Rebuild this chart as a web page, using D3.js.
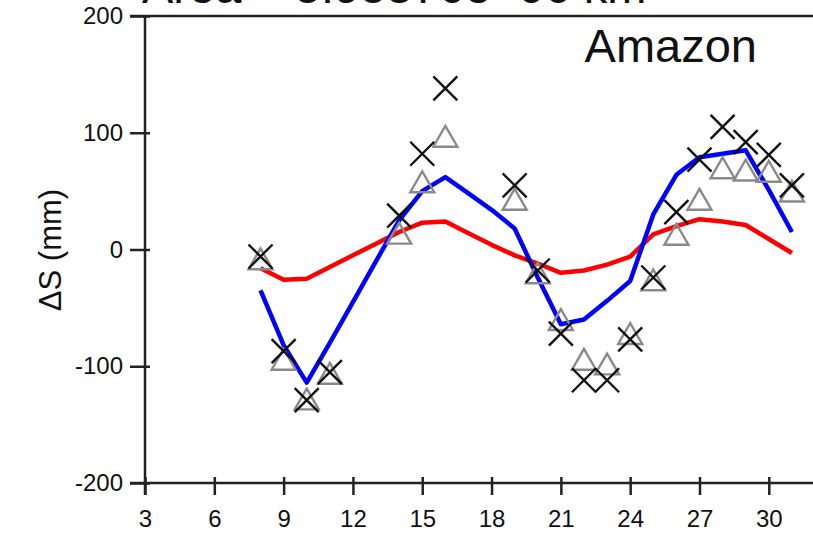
<!DOCTYPE html>
<html>
<head>
<meta charset="utf-8">
<script src="https://cdn.jsdelivr.net/npm/d3@7.9.0/dist/d3.min.js"></script>
<style>
  body { margin: 0; background: #fff; }
  svg { display: block; font-family: "Liberation Sans", Arial, sans-serif; }
</style>
</head>
<body>
<svg width="813" height="541"></svg>
<script>
// x positions (months) and the two curves
const months = [8, 9, 10, 11, 12, 13, 14, 15, 16, 17, 18, 19, 20, 21, 22, 23, 24, 25, 26, 27, 28, 29, 30, 31];
const blueLine = [-35, -82, -114, -80, -45, -10, 25, 50, 62, 48, 34, 18, -24, -64, -60, -44, -27, 30, 64, 79, 82, 85, 51, 15];
const redLine = [-16, -26, -25, -15, -5, 5, 15, 23, 24, 14, 4, -5, -12, -20, -18, -13, -6, 13, 20, 26, 24, 21, 9, -3];
// markers (null = no marker that month)
const crossPts = [-6, -87, -129, -105, null, null, 29, 82, 138, null, null, 55, -18, -72, -112, -112, -77, -24, 32, 77, 105, 92, 81, 55];
const trianglePts = [-11, -97, -131, -109, null, null, 11, 55, 94, null, null, 40, -23, -63, -97, -101, -75, -29, 10, 40, 67, 65, 64, 47];

const xTicks = [3, 6, 9, 12, 15, 18, 21, 24, 27, 30];
const yTicks = [-200, -100, 0, 100, 200];

let svg = d3.select('svg');
let x = d3.scaleLinear().domain([3, 32]).range([145, 815]);
let y = d3.scaleLinear().domain([-200, 200]).range([483, 16]);

// top title line, mostly cut off by the window edge
svg.append('text')
  .attr('x', 142).attr('y', 3)
  .attr('font-size', 47).attr('fill', '#111')
  .text('Area = 5.95376e+06 km²');

// curves
let line = d3.line()
  .defined(d => d[1] != null)
  .x(d => x(d[0]))
  .y(d => y(d[1]));

svg.append('path')
  .attr('d', line(months.map((m, i) => [m, redLine[i]])))
  .attr('fill', 'none').attr('stroke', '#ff0000').attr('stroke-width', 4.5)
  .attr('stroke-linejoin', 'round');
svg.append('path')
  .attr('d', line(months.map((m, i) => [m, blueLine[i]])))
  .attr('fill', 'none').attr('stroke', '#0000ff').attr('stroke-width', 4.5)
  .attr('stroke-linejoin', 'round');

// triangles
let tri = d3.symbol().type(d3.symbolTriangle).size(250);
months.forEach((m, i) => {
  if (trianglePts[i] == null) return;
  svg.append('path')
    .attr('d', tri())
    .attr('transform', `translate(${x(m)},${y(trianglePts[i])})`)
    .attr('fill', 'none').attr('stroke', '#8a8a8a').attr('stroke-width', 2.4);
});

// crosses
months.forEach((m, i) => {
  if (crossPts[i] == null) return;
  let cx = x(m), cy = y(crossPts[i]), r = 12;
  svg.append('path')
    .attr('d', `M${cx - r},${cy - r}L${cx + r},${cy + r}M${cx - r},${cy + r}L${cx + r},${cy - r}`)
    .attr('stroke', '#111').attr('stroke-width', 2.4).attr('fill', 'none');
});

// axes
let yAxis = svg.append('g')
  .attr('transform', 'translate(145,0)')
  .call(d3.axisLeft(y).tickValues(yTicks).tickFormat(d => String(d))
    .tickSize(15).tickPadding(7).tickSizeOuter(0));
yAxis.selectAll('.tick line').attr('x2', -15).attr('x1', 5);
let xAxis = svg.append('g')
  .attr('transform', 'translate(0,483)')
  .call(d3.axisBottom(x).tickValues(xTicks).tickFormat(d => String(d))
    .tickSize(12).tickPadding(15).tickSizeOuter(0));
xAxis.selectAll('.tick line').attr('y1', -6);

svg.selectAll('.domain').remove();
svg.selectAll('.tick line').attr('stroke', '#222').attr('stroke-width', 2.5);
svg.selectAll('.tick text').attr('font-size', 24).attr('fill', '#111')
  .attr('font-family', '"Liberation Sans", Arial, sans-serif');

// frame
svg.append('line').attr('x1', 145).attr('x2', 145).attr('y1', 16).attr('y2', 495)
  .attr('stroke', '#222').attr('stroke-width', 2.5);
svg.append('line').attr('x1', 130).attr('x2', 813).attr('y1', 483).attr('y2', 483)
  .attr('stroke', '#222').attr('stroke-width', 2.5);
svg.append('line').attr('x1', 130).attr('x2', 813).attr('y1', 16).attr('y2', 16)
  .attr('stroke', '#222').attr('stroke-width', 2.5);

// labels
svg.append('text')
  .attr('transform', 'translate(61,250) rotate(-90)')
  .attr('text-anchor', 'middle').attr('font-size', 31).attr('fill', '#111')
  .text('ΔS (mm)');
svg.append('text')
  .attr('x', 757).attr('y', 62).attr('text-anchor', 'end')
  .attr('font-size', 47).attr('fill', '#111')
  .text('Amazon');
</script>
</body>
</html>
